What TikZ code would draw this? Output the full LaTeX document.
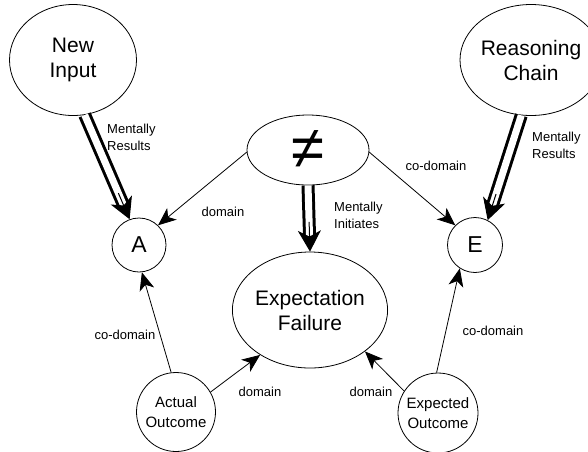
\documentclass[tikz,border=0pt]{standalone}
\usepackage{fontspec}
\setmainfont{Liberation Sans}
\usetikzlibrary{arrows.meta,shapes.geometric,calc}

\begin{document}
\begin{tikzpicture}[x=1pt,y=-1pt,
  bigtext/.style={font=\fontsize{21}{25}\selectfont},
  midtext/.style={font=\fontsize{15}{20}\selectfont},
  lbl/.style={font=\fontsize{13}{17}\selectfont, inner sep=0pt},
  oval/.style={draw, ellipse, line width=0.8pt, inner sep=0pt, align=center},
  ring/.style={draw, circle, line width=0.8pt, inner sep=0pt, align=center},
  thinarrow/.style={line width=0.8pt, -{Stealth[length=18pt,width=15pt,inset=5pt]}},
  dblshaft/.style={double, line width=3pt, double distance=7pt, shorten >=14pt},
  dbltip/.style={line width=1pt, -{Stealth[length=21pt,width=23pt,inset=6pt]}}
]
\useasboundingbox (0,0) rectangle (588,451);

% nodes
\node[oval, bigtext, minimum width=127pt, minimum height=111pt] (ni) at (73,60) {New\\Input};
\node[oval, bigtext, minimum width=128pt, minimum height=111pt] (rc) at (531,60) {Reasoning\\Chain};
\node[oval, minimum width=122pt, minimum height=70pt] (neq) at (308,150) {\fontsize{60}{60}\selectfont ≠};
\node[ring, minimum size=54pt, font=\fontsize{23}{23}\selectfont] (A) at (139,245) {A};
\node[ring, minimum size=55pt, font=\fontsize{23}{23}\selectfont] (E) at (475,245) {E};
\node[oval, bigtext, minimum width=155pt, minimum height=116pt] (ef) at (310,310) {Expectation\\Failure};
\node[ring, midtext, minimum size=79pt] (ao) at (176,412) {Actual\\Outcome};
\node[ring, midtext, minimum size=80pt] (eo) at (438,413) {Expected\\Outcome};

% double "mentally" connectors
\draw[dblshaft] (ni.-78) -- (A.110);
\draw[dbltip] ($(ni.-78)!0.75!(A.110)$) -- (A.110);
\draw[dblshaft] (rc.-100) -- (E.63);
\draw[dbltip] ($(rc.-100)!0.75!(E.63)$) -- (E.63);
\draw[dblshaft] (neq.south) -- (ef.north);
\draw[dbltip] ($(neq.south)!0.55!(ef.north)$) -- (ef.north);

% domain / co-domain connectors
\draw[thinarrow] (neq.182) -- (A.46);
\draw[thinarrow] (neq.-2) -- (E.135);
\draw[thinarrow] (ao.97) -- (A.-84);
\draw[thinarrow] (ao.30) -- (ef.222);
\draw[thinarrow] (eo.147) -- (ef.-37);
\draw[thinarrow] (eo.92) -- (E.237);

% labels
\node[lbl, align=left, anchor=west] (l1) at (107,137) {Mentally\\Results};
\node[lbl, align=left, anchor=west] (l2) at (532,145) {Mentally\\Results};
\node[lbl, align=left, anchor=west] (l3) at (334,215) {Mentally\\Initiates};
\node[lbl] (l4) at (223,212) {domain};
\node[lbl] (l5) at (436,166) {co-domain};
\node[lbl] (l6) at (125,335) {co-domain};
\node[lbl] (l7) at (260,392) {domain};
\node[lbl] (l8) at (371,392) {domain};
\node[lbl] (l9) at (493,331) {co-domain};
\end{tikzpicture}
\end{document}
